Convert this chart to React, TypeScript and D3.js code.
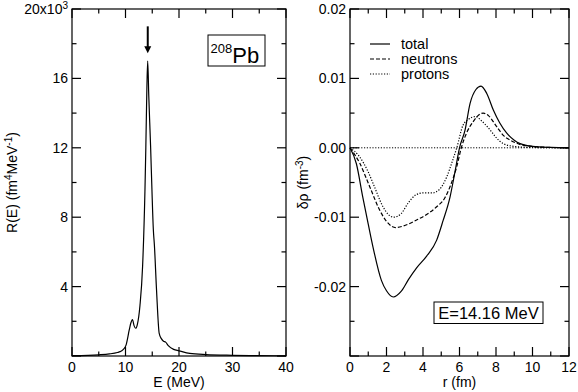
import React from 'react';
import * as d3 from 'd3';

// left panel: strength function R(E)
const energy = [0, 3, 5, 7, 8.5, 9, 9.5, 10.1, 10.7, 11, 11.3, 11.6, 11.9, 12.2, 12.7, 13.2, 13.64, 13.8, 14, 14.15, 14.35, 14.7, 14.95, 15.2, 15.4, 15.8, 16.3, 16.7, 17.1, 17.5, 18, 19, 20, 22, 25, 30, 35, 40];
const strength = [0.02, 0.04, 0.07, 0.12, 0.2, 0.25, 0.35, 0.63, 1.5, 1.9, 2.1, 1.75, 1.6, 1.8, 2.9, 5.2, 9.6, 12, 15.5, 17.0, 15, 12, 9.5, 7.3, 6.4, 3.8, 1.3, 1.0, 0.85, 0.8, 0.6, 0.38, 0.3, 0.15, 0.08, 0.04, 0.02, 0.01];

// right panel: transition densities
const rTotal = [0, 0.35, 0.7, 1.0, 1.26, 1.72, 2.0, 2.37, 2.8, 3.2, 3.65, 4.2, 4.75, 5.1, 5.48, 5.75, 6.0, 6.3, 6.58, 6.9, 7.18, 7.5, 7.86, 8.2, 8.59, 9.0, 9.32, 10, 11, 12];
const total = [0, -0.0023, -0.0071, -0.011, -0.0143, -0.0191, -0.0206, -0.0215, -0.0207, -0.019, -0.0173, -0.0156, -0.0133, -0.0105, -0.0071, -0.0035, 0.0, 0.0025, 0.0064, 0.0084, 0.0089, 0.0078, 0.0054, 0.0036, 0.0021, 0.0011, 0.0006, 0.0002, 0.00005, 0];
const rNeutrons = [0, 0.53, 1.08, 1.63, 2.0, 2.5, 3.0, 3.65, 4.2, 4.75, 5.2, 5.48, 5.85, 6.1, 6.4, 6.76, 7.0, 7.3, 7.6, 8.05, 8.4, 8.78, 9.3, 10, 11, 12];
const neutrons = [0, -0.0022, -0.0056, -0.009, -0.0106, -0.0115, -0.0112, -0.0104, -0.0096, -0.0085, -0.0072, -0.0056, -0.0027, 0, 0.0022, 0.0038, 0.0046, 0.005, 0.0046, 0.003, 0.0018, 0.0011, 0.0005, 0.0002, 0.00005, 0];
const rProtons = [0, 0.5, 1.0, 1.26, 1.81, 2.1, 2.4, 2.8, 3.2, 3.6, 4.0, 4.5, 4.9, 5.3, 5.6, 5.85, 6.2, 6.5, 6.87, 7.2, 7.67, 8.0, 8.4, 9.0, 10, 12];
const protons = [0, -0.0012, -0.0035, -0.0051, -0.0085, -0.0096, -0.01, -0.0095, -0.0079, -0.0068, -0.0065, -0.0065, -0.006, -0.0042, -0.002, 0, 0.0033, 0.0041, 0.0045, 0.0039, 0.0026, 0.0015, 0.0006, 0.0002, 0.00005, 0];

const leftXMajor = [0, 10, 20, 30, 40];
const leftXMinor = [5, 15, 25, 35];
const leftYMajor = [0, 4, 8, 12, 16, 20];
const leftYMinor = [2, 6, 10, 14, 18];
const rightXMajor = [0, 2, 4, 6, 8, 10, 12];
const rightXMinor = [1, 3, 5, 7, 9, 11];
const rightYMajor = [-0.03, -0.02, -0.01, 0, 0.01, 0.02];
const rightYMinor = [-0.025, -0.015, -0.005, 0.005, 0.015];
const rightYLabels = ['', '-0.02', '-0.01', '0.00', '0.01', '0.02'];

const legendNames = ['total', 'neutrons', 'protons'];
const dashes = ['none', '4,2', '1.2,1.6'];

const FONT = '"Liberation Sans", Arial, Helvetica, sans-serif';
const MAJ = 9;
const MIN = 4.5;

type Sc = d3.ScaleLinear<number, number>;

const Frame = ({ x, y, xMaj, xMin, yMaj, yMin }: { x: Sc; y: Sc; xMaj: number[]; xMin: number[]; yMaj: number[]; yMin: number[] }) => {
  const [l, r] = x.range();
  const [b, t] = y.range();
  const ticks: JSX.Element[] = [];
  const addX = (v: number, len: number, k: string) => {
    const px = x(v);
    ticks.push(<line key={'xb' + k} x1={px} x2={px} y1={b} y2={b - len} />);
    ticks.push(<line key={'xt' + k} x1={px} x2={px} y1={t} y2={t + len} />);
  };
  const addY = (v: number, len: number, k: string) => {
    const py = y(v);
    ticks.push(<line key={'yl' + k} x1={l} x2={l + len} y1={py} y2={py} />);
    ticks.push(<line key={'yr' + k} x1={r} x2={r - len} y1={py} y2={py} />);
  };
  xMaj.forEach((v, i) => addX(v, MAJ, 'M' + i));
  xMin.forEach((v, i) => addX(v, MIN, 'm' + i));
  yMaj.forEach((v, i) => addY(v, MAJ, 'M' + i));
  yMin.forEach((v, i) => addY(v, MIN, 'm' + i));
  return (
    <g stroke="#000" strokeWidth={1.2} fill="none">
      {ticks}
      <rect x={l} y={t} width={r - l} height={b - t} />
    </g>
  );
};

export default function App() {
  const xL = d3.scaleLinear().domain([0, 40]).range([72, 286]);
  const yL = d3.scaleLinear().domain([0, 20]).range([356, 9]);
  const xR = d3.scaleLinear().domain([0, 12]).range([350, 569]);
  const yR = d3.scaleLinear().domain([-0.03, 0.02]).range([356, 9]);

  const lineL = d3.line<number>().x((_, i) => xL(energy[i])).y(d => yL(d)).curve(d3.curveMonotoneX);
  const mk = (rs: number[]) => d3.line<number>().x((_, i) => xR(rs[i])).y(d => yR(d)).curve(d3.curveMonotoneX);
  const series = [
    { r: rTotal, v: total },
    { r: rNeutrons, v: neutrons },
    { r: rProtons, v: protons },
  ];

  const arrowX = xL(14.16);
  const arrowTop = yL(19.0);
  const arrowTip = yL(17.45);

  return (
    <svg width={578} height={392} style={{ position: 'absolute', left: 0, top: 0, background: '#fff' }} fontFamily={FONT}>
      <rect width={578} height={392} fill="#fff" />
      {/* left panel */}
      <path d={lineL(strength) || ''} fill="none" stroke="#000" strokeWidth={1.2} />
      <Frame x={xL} y={yL} xMaj={leftXMajor} xMin={leftXMinor} yMaj={leftYMajor} yMin={leftYMinor} />
      <g fontSize={14} fill="#000">
        {leftXMajor.map(v => (
          <text key={v} x={xL(v)} y={372} textAnchor="middle">{v}</text>
        ))}
        {leftYMajor.slice(1, -1).map(v => (
          <text key={v} x={68} y={yL(v)} dy="0.35em" textAnchor="end">{v}</text>
        ))}
        <text x={68} y={yL(20)} dy="0.35em" textAnchor="end">
          20x10<tspan fontSize={10} dy={-5}>3</tspan>
        </text>
        <text x={(xL(0) + xL(40)) / 2} y={387} textAnchor="middle">E (MeV)</text>
        <text transform={`translate(17,182.5) rotate(-90)`} textAnchor="middle">
          R(E) (fm<tspan fontSize={10} dy={-5}>4</tspan><tspan dy={5}>MeV</tspan><tspan fontSize={10} dy={-5}>-1</tspan><tspan dy={5}>)</tspan>
        </text>
      </g>
      <line x1={arrowX} x2={arrowX} y1={arrowTop} y2={arrowTip - 5} stroke="#000" strokeWidth={2} />
      <path d={`M${arrowX - 3.5},${arrowTip - 7}L${arrowX + 3.5},${arrowTip - 7}L${arrowX},${arrowTip}Z`} fill="#000" />
      <rect x={208} y={35} width={57} height={31} fill="#fff" stroke="#000" strokeWidth={1} />
      <text x={210.5} y={62.5} fill="#000" fontSize={22}>
        <tspan fontSize={13} dy={-10}>208</tspan><tspan dy={10}>Pb</tspan>
      </text>

      {/* right panel */}
      <line x1={xR(0)} x2={xR(12)} y1={yR(0)} y2={yR(0)} stroke="#000" strokeWidth={1} strokeDasharray="1.2,1.6" />
      {series.map((s, i) => (
        <path key={i} d={mk(s.r)(s.v) || ''} fill="none" stroke="#000" strokeWidth={1.2} strokeDasharray={dashes[i]} />
      ))}
      <Frame x={xR} y={yR} xMaj={rightXMajor} xMin={rightXMinor} yMaj={rightYMajor} yMin={rightYMinor} />
      <g fontSize={14} fill="#000">
        {rightXMajor.map(v => (
          <text key={v} x={xR(v)} y={372} textAnchor="middle">{v}</text>
        ))}
        {rightYMajor.map((v, i) => (
          <text key={v} x={346} y={yR(v)} dy="0.35em" textAnchor="end">{rightYLabels[i]}</text>
        ))}
        <text x={(xR(0) + xR(12)) / 2} y={387} textAnchor="middle">r (fm)</text>
        <text transform={`translate(308,182.5) rotate(-90)`} textAnchor="middle">
          δρ (fm<tspan fontSize={10} dy={-5}>-3</tspan><tspan dy={5}>)</tspan>
        </text>
      </g>
      <g fontSize={14.5} fill="#000">
        {legendNames.map((n, i) => (
          <g key={n}>
            <line x1={370} x2={390} y1={44 + i * 15} y2={44 + i * 15} stroke="#000" strokeWidth={1.2} strokeDasharray={dashes[i]} />
            <text x={401} y={44 + i * 15} dy="0.35em">{n}</text>
          </g>
        ))}
      </g>
      <rect x={434} y={302} width={109} height={21.5} fill="#fff" stroke="#000" strokeWidth={1} />
      <text x={488.5} y={318.5} textAnchor="middle" fontSize={16.5} fill="#000">E=14.16 MeV</text>
    </svg>
  );
}
